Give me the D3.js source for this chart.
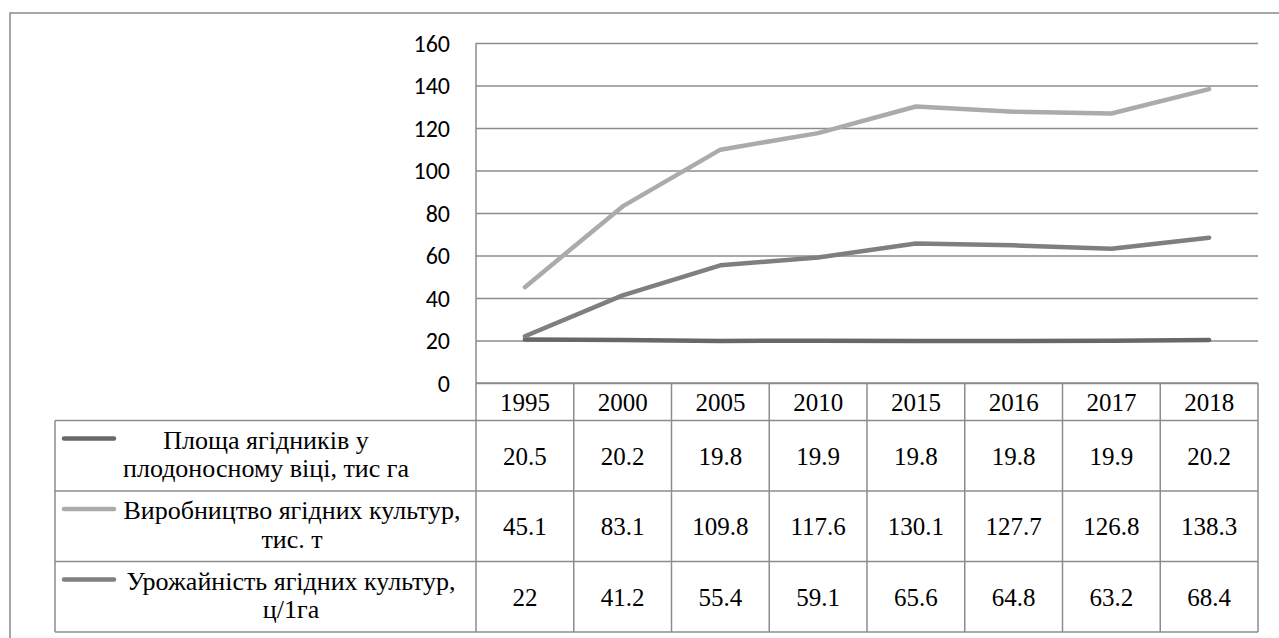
<!DOCTYPE html>
<html>
<head>
<meta charset="utf-8">
<script src="https://cdn.jsdelivr.net/npm/d3@7"></script>
<style>
  html, body { margin: 0; padding: 0; background: #fff; }
  svg { display: block; }
</style>
</head>
<body>
<svg id="chart" width="1279" height="638"></svg>
<script>
const years = ["1995", "2000", "2005", "2010", "2015", "2016", "2017", "2018"];
const areaValues = [20.5, 20.2, 19.8, 19.9, 19.8, 19.8, 19.9, 20.2];
const productionValues = [45.1, 83.1, 109.8, 117.6, 130.1, 127.7, 126.8, 138.3];
const yieldValues = [22, 41.2, 55.4, 59.1, 65.6, 64.8, 63.2, 68.4];
const yTicks = [0, 20, 40, 60, 80, 100, 120, 140, 160];
const seriesLabels = [
  ["Площа ягідників у", "плодоносному віці, тис га"],
  ["Виробництво ягідних культур,", "тис. т"],
  ["Урожайність ягідних культур,", "ц/1га"]
];
const seriesColors = ["#686868", "#ababab", "#7f7f7f"];

const series = [
  { label: seriesLabels[0], values: areaValues, color: seriesColors[0], textX: 266 },
  { label: seriesLabels[1], values: productionValues, color: seriesColors[1], textX: 292 },
  { label: seriesLabels[2], values: yieldValues, color: seriesColors[2], textX: 291 }
];

const svg = d3.select("#chart");
const plotLeft = 476, plotRight = 1258, plotTop = 43, plotBottom = 383;
const legendLeft = 55;
const headerBottom = 420.5;
const rowH = 70.5;
const gridColor = "#8c8c8c";
const serifFont = '"Liberation Serif", "Times New Roman", serif';
const sansFont = 'Carlito, Calibri, "Open Sans", sans-serif';

// outer border (cropped at right and bottom)
svg.append("rect")
  .attr("x", 10).attr("y", 13).attr("width", 1290).attr("height", 650)
  .attr("fill", "none").attr("stroke", "#8a8a8a").attr("stroke-width", 1.5);

const x = d3.scaleBand().domain(years).range([plotLeft, plotRight]);
const y = d3.scaleLinear().domain([0, 160]).range([plotBottom, plotTop]);

// gridlines + y labels
const yAxis = d3.axisLeft(y).tickValues(yTicks).tickSize(-(plotRight - plotLeft)).tickPadding(26);
const gy = svg.append("g").attr("transform", `translate(${plotLeft},0)`).call(yAxis);
gy.select(".domain").remove();
gy.selectAll(".tick line").attr("stroke", gridColor).attr("stroke-width", 1.4);
gy.selectAll(".tick text")
  .attr("fill", "#000")
  .style("font-family", sansFont)
  .style("font-size", "24px")
  .attr("dy", "0.35em");

// table lines
const tableBottom = headerBottom + rowH * 3;
const tg = svg.append("g").attr("stroke", "#8c8c8c").attr("stroke-width", 1.5).attr("fill", "none");
const bounds = years.map(d => x(d)).concat([plotRight]);
tg.selectAll("line.v").data(bounds).join("line")
  .attr("x1", d => d).attr("x2", d => d)
  .attr("y1", (d, i) => i === 0 ? plotTop : plotBottom)
  .attr("y2", tableBottom);
tg.append("line").attr("x1", legendLeft).attr("x2", legendLeft).attr("y1", headerBottom).attr("y2", tableBottom);
tg.append("line").attr("x1", plotLeft).attr("x2", plotRight).attr("y1", plotBottom).attr("y2", plotBottom);
[0, 1, 2, 3].forEach(i => {
  tg.append("line").attr("x1", legendLeft).attr("x2", plotRight)
    .attr("y1", headerBottom + rowH * i).attr("y2", headerBottom + rowH * i);
});

// header years
svg.append("g").selectAll("text").data(years).join("text")
  .attr("x", d => x(d) + x.bandwidth() / 2)
  .attr("y", (plotBottom + headerBottom) / 2)
  .attr("dy", "0.35em")
  .attr("text-anchor", "middle")
  .style("font-family", serifFont).style("font-size", "25px")
  .text(d => d);

// rows
series.forEach((s, si) => {
  const top = headerBottom + rowH * si;
  const mid = top + rowH / 2;
  const g = svg.append("g");
  g.selectAll("text.v").data(s.values).join("text")
    .attr("x", (d, i) => x(years[i]) + x.bandwidth() / 2)
    .attr("y", mid)
    .attr("dy", "0.35em")
    .attr("text-anchor", "middle")
    .style("font-family", serifFont).style("font-size", "25px")
    .text(d => d);
  g.append("line")
    .attr("x1", 64).attr("x2", 114)
    .attr("y1", top + 18).attr("y2", top + 18)
    .attr("stroke", s.color).attr("stroke-width", 4.5).attr("stroke-linecap", "round");
  g.selectAll("text.l").data(s.label).join("text")
    .attr("x", s.textX)
    .attr("y", (d, i) => top + 28 + i * 28.5)
    .attr("text-anchor", "middle")
    .style("font-family", serifFont).style("font-size", "26px")
    .text(d => d);
});

// series lines
const line = d3.line()
  .x((d, i) => x(years[i]) + x.bandwidth() / 2)
  .y(d => y(d));
series.forEach(s => {
  svg.append("path")
    .datum(s.values)
    .attr("d", line)
    .attr("fill", "none")
    .attr("stroke", s.color)
    .attr("stroke-width", 4.5)
    .attr("stroke-linecap", "round")
    .attr("stroke-linejoin", "round");
});
</script>
</body>
</html>
